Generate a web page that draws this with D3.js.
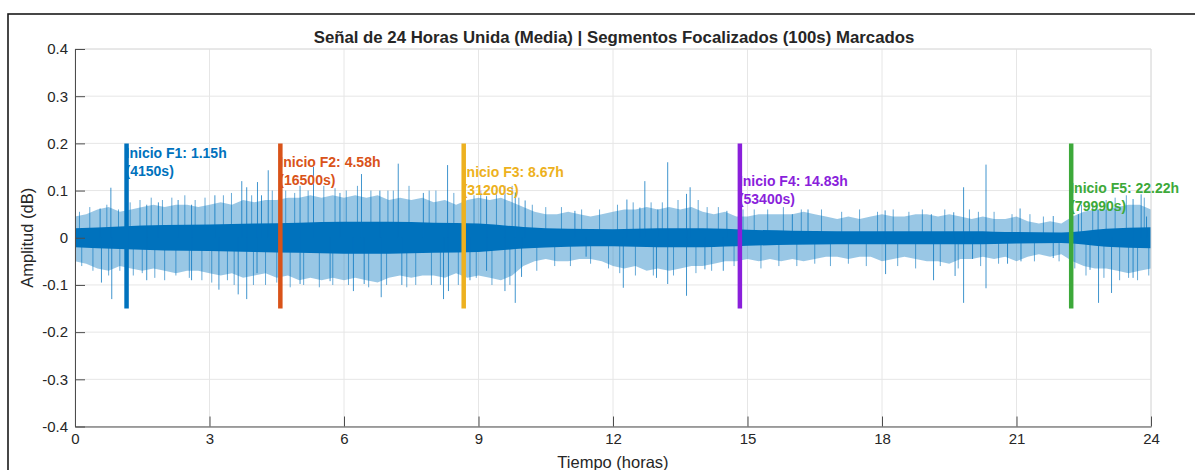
<!DOCTYPE html>
<html lang="es">
<head>
<meta charset="UTF-8">
<title>Señal de 24 Horas</title>
<script src="https://d3js.org/d3.v7.min.js"></script>
<style>
  body { margin: 0; background: #fff; }
  text { font-family: "Liberation Sans", Arial, sans-serif; }
</style>
</head>
<body>
<script>
// --- data ---
var yTicks = [-0.4, -0.3, -0.2, -0.1, 0, 0.1, 0.2, 0.3, 0.4];
var xTicks = [0, 3, 6, 9, 12, 15, 18, 21, 24];

// envelope of the dense band (hourly, 0..24 h)
var coreHours = d3.range(0, 25);
var coreAmp = [0.02, 0.024, 0.027, 0.028, 0.03, 0.032, 0.034, 0.034, 0.032, 0.03, 0.023, 0.019, 0.018,
               0.02, 0.02, 0.017, 0.015, 0.014, 0.014, 0.014, 0.014, 0.012, 0.011, 0.019, 0.022];

// lighter fringe around the band, every 0.25 h
var fringeHours = d3.range(0, 97).map(function (i) { return i / 4; });
var fringeHi = [0.045, 0.05, 0.06, 0.065, 0.055, 0.06, 0.065, 0.07, 0.065, 0.07, 0.07, 0.065,
                0.07, 0.075, 0.07, 0.08, 0.075, 0.08, 0.08, 0.085, 0.085, 0.09, 0.085, 0.09,
                0.085, 0.09, 0.085, 0.09, 0.08, 0.085, 0.08, 0.085, 0.075, 0.08, 0.07, 0.08,
                0.085, 0.08, 0.085, 0.075, 0.065, 0.055, 0.05, 0.05, 0.055, 0.05, 0.045, 0.05,
                0.055, 0.06, 0.06, 0.065, 0.06, 0.065, 0.06, 0.065, 0.055, 0.05, 0.055, 0.045,
                0.045, 0.05, 0.05, 0.05, 0.05, 0.055, 0.05, 0.045, 0.04, 0.045, 0.04, 0.045,
                0.05, 0.045, 0.045, 0.05, 0.05, 0.045, 0.05, 0.045, 0.04, 0.045, 0.04, 0.04,
                0.045, 0.035, 0.03, 0.035, 0.03, 0.045, 0.055, 0.06, 0.06, 0.065, 0.07, 0.07, 0.06];
var fringeLo = [-0.05, -0.055, -0.065, -0.07, -0.06, -0.065, -0.07, -0.065, -0.07, -0.075, -0.07, -0.07,
                -0.075, -0.08, -0.075, -0.085, -0.08, -0.075, -0.085, -0.08, -0.09, -0.085, -0.09, -0.085,
                -0.09, -0.085, -0.09, -0.095, -0.085, -0.08, -0.085, -0.08, -0.08, -0.085, -0.075, -0.085,
                -0.08, -0.085, -0.09, -0.08, -0.06, -0.05, -0.045, -0.05, -0.05, -0.045, -0.045, -0.05,
                -0.06, -0.065, -0.06, -0.07, -0.065, -0.07, -0.065, -0.06, -0.06, -0.055, -0.05, -0.05,
                -0.045, -0.05, -0.045, -0.05, -0.045, -0.05, -0.045, -0.04, -0.04, -0.045, -0.04, -0.04,
                -0.05, -0.045, -0.04, -0.045, -0.05, -0.05, -0.055, -0.045, -0.045, -0.04, -0.045, -0.04,
                -0.05, -0.04, -0.035, -0.04, -0.035, -0.05, -0.06, -0.065, -0.065, -0.07, -0.075, -0.07, -0.065];

// tall isolated spikes (hours, amplitude)
var spikeT = [0.56, 0.80, 1.6, 1.86, 2.30, 2.6, 3.12, 3.72, 3.83, 4.07, 4.16, 4.31, 5.02, 5.32, 5.91,
              6.39, 6.8, 7.21, 7.77, 8.31, 9.18, 9.59, 9.82, 10.04, 11.15, 12.31, 12.6, 12.71, 13.0,
              13.22, 13.64, 13.72, 14.54, 16.0, 16.35, 18.07, 19.1, 19.6, 19.82, 20.32, 21.08, 21.82,
              22.38, 22.82, 23.6, 23.78, 23.9,
              0.59, 0.82, 1.6, 2.6, 3.21, 3.64, 3.83, 4.06, 5.02, 5.69, 6.21, 6.45, 6.83, 7.29, 8.22,
              8.33, 8.81, 9.18, 9.59, 9.82, 9.96, 11.4, 12.23, 12.97, 13.22, 13.64, 14.05, 14.46, 18.08,
              19.15, 19.63, 19.82, 20.02, 20.32, 20.8, 21.1, 21.82, 22.64, 22.83, 23.12, 23.6];
var spikeV = [0.062, 0.106, 0.07, 0.075, 0.08, 0.07, 0.09, 0.12, 0.107, 0.118, 0.09, 0.143, 0.11, 0.15, 0.095,
              0.135, 0.1, 0.157, 0.095, 0.154, 0.088, 0.11, 0.096, 0.079, 0.057, 0.081, 0.064, 0.12, 0.06,
              0.16, 0.093, 0.107, 0.057, 0.05, 0.06, 0.058, 0.05, 0.054, 0.107, 0.155, 0.062, 0.046,
              0.05, 0.06, 0.082, 0.092, 0.045,
              -0.095, -0.13, -0.09, -0.09, -0.11, -0.12, -0.13, -0.075, -0.098, -0.092, -0.113, -0.098, -0.126, -0.1, -0.13,
              -0.113, -0.09, -0.07, -0.113, -0.138, -0.083, -0.04, -0.106, -0.085, -0.098, -0.123, -0.067, -0.07, -0.077,
              -0.09, -0.081, -0.138, -0.045, -0.107, -0.055, -0.05, -0.043, -0.068, -0.138, -0.117, -0.085];

// shorter spikes poking just out of the band
var medT = [0.1, 0.15, 0.33, 0.4, 0.71, 0.75, 0.97, 1.0, 1.23, 1.3, 1.45, 1.5, 1.7, 1.78, 1.95,
            2.0, 2.16, 2.25, 2.45, 2.55, 2.68, 2.83, 2.9, 3.05, 3.31, 3.4, 3.49, 3.55, 3.94, 3.98,
            4.25, 4.4, 4.5, 4.7, 4.8, 4.9, 5.1, 5.2, 5.45, 5.55, 5.75, 5.8, 6.05, 6.1, 6.3, 6.55,
            6.6, 6.95, 6.98, 7.1, 7.4, 7.45, 7.6, 7.9, 7.95, 8.05, 8.15, 8.45, 8.55, 8.9, 8.95,
            9.05, 9.3, 9.4, 9.7, 9.75, 9.9, 10.2, 10.3, 10.5, 10.7, 10.85, 11.05, 11.3, 11.5, 11.7,
            11.9, 12.1, 12.15, 12.45, 12.5, 12.85, 12.9, 13.1, 13.35, 13.45, 13.85, 13.9, 14.1, 14.2,
            14.35, 14.7, 14.9, 15.15, 15.3, 15.45, 15.7, 15.8, 16.1, 16.2, 16.5, 16.65, 16.85, 17.1,
            17.25, 17.5, 17.65, 17.9, 18.25, 18.35, 18.6, 18.75, 18.9, 19.3, 19.4, 19.7, 19.95,
            20.15, 20.2, 20.5, 20.6, 20.9, 21.3, 21.4, 21.6, 21.95, 22.3, 22.45, 22.55, 22.7, 22.95,
            23.0, 23.2, 23.3, 23.45, 23.5, 23.7, 23.85, 23.95];
var medV = [0.055, -0.06, 0.065, -0.07, 0.07, -0.08, 0.06, -0.07, 0.075, -0.08, 0.08, -0.075, 0.085, -0.085, 0.08,
            -0.09, 0.085, -0.08, 0.09, -0.085, 0.08, -0.09, 0.085, -0.095, 0.09, -0.09, 0.095, -0.1, 0.09, -0.1,
            -0.1, 0.1, -0.095, 0.1, -0.105, 0.095, -0.1, 0.1, -0.105, 0.11, -0.1, 0.105, 0.1, -0.1, 0.11, -0.105,
            0.1, -0.1, 0.1, 0.1, -0.105, 0.11, -0.1, 0.1, -0.1, 0.1, -0.1, 0.095, -0.1, 0.09, -0.085,
            0.1, -0.1, 0.1, -0.1, 0.11, 0.085, 0.07, -0.07, 0.065, -0.06, 0.065, -0.06, 0.06, -0.055, 0.06,
            -0.065, 0.07, -0.075, 0.075, -0.08, 0.075, -0.08, 0.075, -0.08, 0.08, -0.075, 0.08, 0.065, -0.07,
            0.065, -0.06, 0.06, 0.06, -0.065, 0.06, -0.06, 0.065, -0.06, 0.06, -0.055, 0.06, -0.06, 0.055,
            -0.055, 0.06, -0.06, 0.055, 0.06, -0.06, 0.055, -0.065, 0.06, -0.06, 0.06, -0.065, 0.06,
            0.055, -0.06, 0.055, -0.055, 0.05, 0.05, -0.05, 0.045, -0.05, -0.065, 0.07, -0.08, 0.075, -0.085,
            0.08, 0.085, -0.09, 0.09, -0.085, -0.09, 0.085, -0.08];

// focused segment markers
var segNames = ["F1", "F2", "F3", "F4", "F5"];
var segHours = [1.15, 4.58, 8.67, 14.83, 22.22];
var segSecs = [4150, 16500, 31200, 53400, 79990];
var segColors = ["#0072BD", "#D95319", "#EDB120", "#8A1FDB", "#3DA93A"];
var segLabelY = [0.18, 0.16, 0.14, 0.12, 0.105];
var segTop = 0.2, segBottom = -0.15;

// --- layout ---
var W = 1195, H = 470;
var m = {left: 75, right: 1151, top: 49, bottom: 426.5};
var blue = "#0072BD";

var x = d3.scaleLinear().domain([0, 24]).range([m.left, m.right]);
var y = d3.scaleLinear().domain([-0.4, 0.4]).range([m.bottom, m.top]);

var svg = d3.select("body").append("svg")
    .attr("width", W).attr("height", H);

svg.append("rect").attr("width", W).attr("height", H).attr("fill", "#fff");
// figure frame (runs off the right/bottom edge)
svg.append("rect")
    .attr("x", 8).attr("y", 14).attr("width", W + 20).attr("height", H + 20)
    .attr("fill", "none").attr("stroke", "#1a1a1a").attr("stroke-width", 1.6);

// grid
var grid = svg.append("g").attr("stroke", "#e6e6e6").attr("stroke-width", 1);
grid.selectAll(".gx").data(xTicks).enter().append("line")
    .attr("x1", function (d) { return x(d); }).attr("x2", function (d) { return x(d); })
    .attr("y1", m.top).attr("y2", m.bottom);
grid.selectAll(".gy").data(yTicks).enter().append("line")
    .attr("x1", m.left).attr("x2", m.right)
    .attr("y1", function (d) { return y(d); }).attr("y2", function (d) { return y(d); });

// signal
var fringe = d3.area()
    .x(function (d, i) { return x(fringeHours[i]); })
    .y0(function (d, i) { return y(fringeLo[i]); })
    .y1(function (d, i) { return y(fringeHi[i]); });
svg.append("path").datum(fringeHours).attr("d", fringe)
    .attr("fill", blue).attr("fill-opacity", 0.4);

svg.append("g").selectAll("line").data(medT).enter().append("line")
    .attr("x1", function (d) { return x(d); }).attr("x2", function (d) { return x(d); })
    .attr("y1", y(0))
    .attr("y2", function (d, i) { return y(medV[i]); })
    .attr("stroke", blue).attr("stroke-width", 1).attr("stroke-opacity", 0.6);

var core = d3.area()
    .curve(d3.curveMonotoneX)
    .x(function (d, i) { return x(coreHours[i]); })
    .y0(function (d, i) { return y(-coreAmp[i]); })
    .y1(function (d, i) { return y(coreAmp[i]); });
svg.append("path").datum(coreHours).attr("d", core)
    .attr("fill", blue);

svg.append("g").selectAll("line").data(spikeT).enter().append("line")
    .attr("x1", function (d) { return x(d); }).attr("x2", function (d) { return x(d); })
    .attr("y1", y(0))
    .attr("y2", function (d, i) { return y(spikeV[i]); })
    .attr("stroke", blue).attr("stroke-width", 1).attr("stroke-opacity", 0.75);

// axes
var axisColor = "#4d4d4d";
svg.append("line").attr("x1", m.left).attr("x2", m.right).attr("y1", m.top).attr("y2", m.top)
    .attr("stroke", "#dcdcdc");
svg.append("line").attr("x1", m.right).attr("x2", m.right).attr("y1", m.top).attr("y2", m.bottom)
    .attr("stroke", "#dcdcdc");

var xAxis = svg.append("g").attr("transform", "translate(0," + m.bottom + ")")
    .call(d3.axisBottom(x).tickValues(xTicks).tickSizeInner(-10).tickSizeOuter(0).tickPadding(7)
        .tickFormat(function (d) { return String(d); }));
var yAxis = svg.append("g").attr("transform", "translate(" + m.left + ",0)")
    .call(d3.axisLeft(y).tickValues(yTicks).tickSizeInner(-10).tickSizeOuter(0).tickPadding(7)
        .tickFormat(function (d) { return String(d); }));
[xAxis, yAxis].forEach(function (a) {
    a.select(".domain").attr("stroke", axisColor);
    a.selectAll(".tick line").attr("stroke", axisColor);
    a.selectAll(".tick text").attr("fill", "#262626")
        .style("font-size", "15px").style("font-family", "'Liberation Sans', Arial, sans-serif");
});

// markers
var marks = svg.append("g");
marks.selectAll("line").data(segHours).enter().append("line")
    .attr("x1", function (d) { return x(d); }).attr("x2", function (d) { return x(d); })
    .attr("y1", y(segTop)).attr("y2", y(segBottom))
    .attr("stroke", function (d, i) { return segColors[i]; })
    .attr("stroke-width", 4.5);

var lbl = marks.selectAll("text").data(segHours).enter().append("text")
    .attr("x", function (d) { return x(d) - 1; })
    .attr("y", function (d, i) { return y(segLabelY[i]); })
    .attr("fill", function (d, i) { return segColors[i]; })
    .style("font-size", "14px").style("font-weight", "bold");
lbl.append("tspan").attr("dy", "0.35em")
    .text(function (d, i) { return "Inicio " + segNames[i] + ": " + d.toFixed(2) + "h"; });
lbl.append("tspan").attr("x", function (d) { return x(d) - 1; }).attr("dy", 18)
    .text(function (d, i) { return "(" + segSecs[i] + "s)"; });

// titles
svg.append("text").attr("x", (m.left + m.right) / 2 + 1).attr("y", 43)
    .attr("text-anchor", "middle").attr("fill", "#262626")
    .style("font-size", "16.8px").style("font-weight", "bold")
    .text("Señal de 24 Horas Unida (Media) | Segmentos Focalizados (100s) Marcados");
svg.append("text").attr("x", (m.left + m.right) / 2).attr("y", 468)
    .attr("text-anchor", "middle").attr("fill", "#262626")
    .style("font-size", "16.5px")
    .text("Tiempo (horas)");
svg.append("text").attr("transform", "translate(33," + y(0) + ") rotate(-90)")
    .attr("text-anchor", "middle").attr("fill", "#262626")
    .style("font-size", "16.5px")
    .text("Amplitud (dB)");
</script>
</body>
</html>
